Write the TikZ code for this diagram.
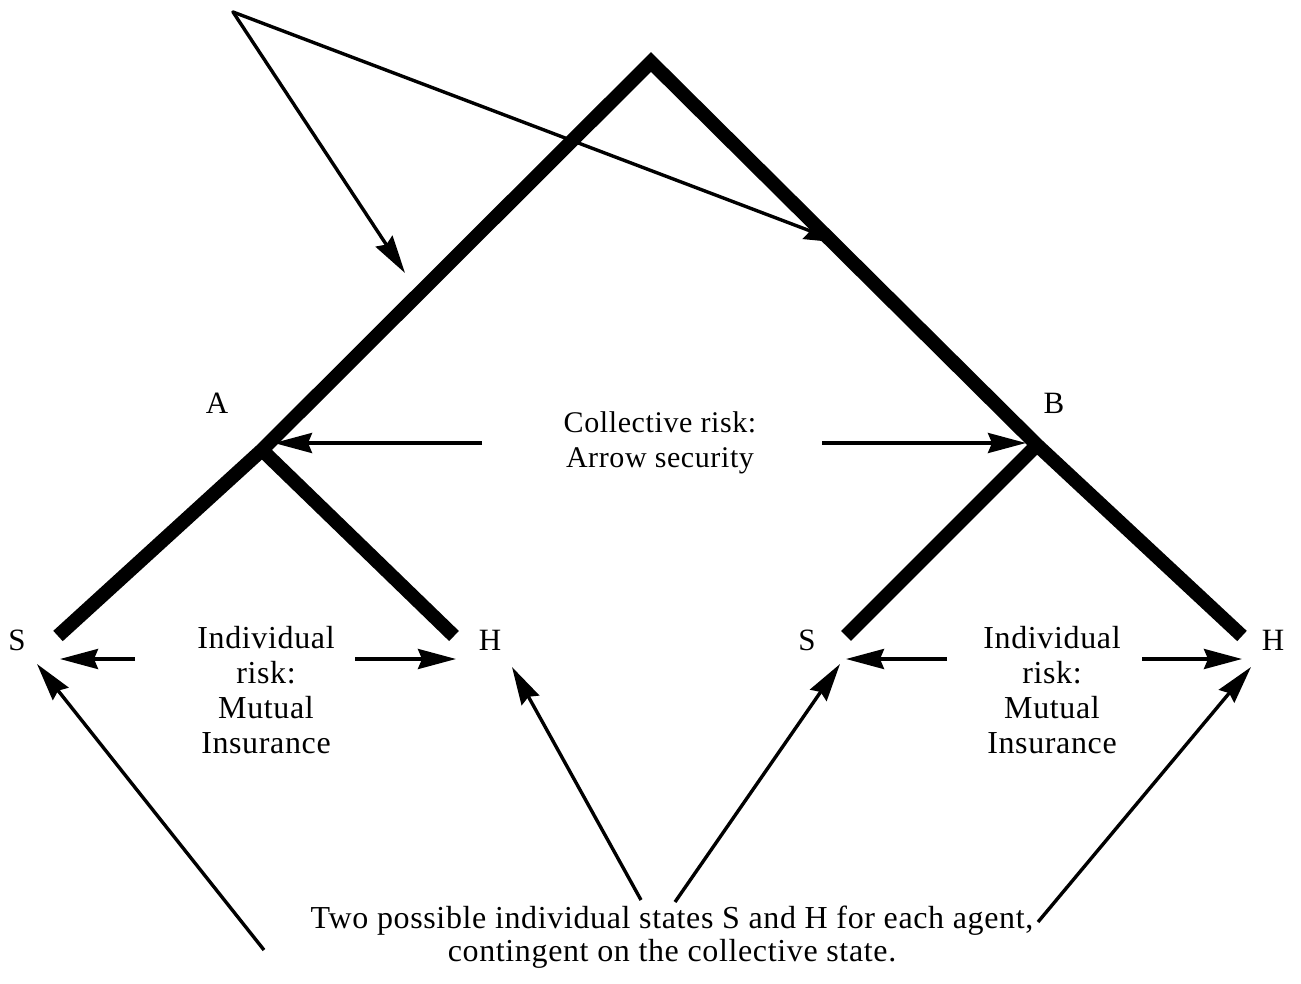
\documentclass[tikz,border=0pt]{standalone}
\usepackage{fontspec}
\setmainfont{Liberation Serif}[LetterSpace=2]
\usetikzlibrary{arrows.meta}
\begin{document}
\begin{tikzpicture}[x=1pt,y=-1pt,
  branch/.style={line width=14pt,line join=miter,line cap=butt},
  pointer/.style={line width=3.4pt,-{Stealth[length=38pt,width=20pt,inset=4pt]}},
  lbl/.style={font=\fontsize{31}{35}\selectfont,inner sep=0pt,align=center},
  big/.style={font=\fontsize{32}{35}\selectfont},
  mid/.style={font=\fontsize{30}{35}\selectfont}]
\useasboundingbox (0,0) rectangle (1301,984);
% tree junctions
\coordinate (top) at (651,62);
\coordinate (ja) at (262,450);
\coordinate (jb) at (1037,445);
\coordinate (sl) at (58,636);
\coordinate (hl) at (454,636);
\coordinate (sr) at (846,636);
\coordinate (hr) at (1242,636);
\draw[branch] (sl) -- (ja) -- (top) -- (jb) -- (hr);
\draw[branch] (ja) -- (hl);
\draw[branch] (jb) -- (sr);
% labels
\node[lbl] (A) at (217,403) {A};
\node[lbl] (B) at (1054,403) {B};
\node[lbl] (S1) at (17,640) {S};
\node[lbl] (H1) at (490,640) {H};
\node[lbl] (S2) at (807,640) {S};
\node[lbl] (H2) at (1273,640) {H};
\node[lbl,mid] (coll) at (660,443) {Collective risk:\\Arrow security};
\node[lbl,big] (ind1) at (266,690) {Individual\\risk:\\Mutual\\Insurance};
\node[lbl,big] (ind2) at (1052,690) {Individual\\risk:\\Mutual\\Insurance};
\node[lbl,font=\fontsize{32}{33}\selectfont] (two) at (672,937) {Two possible individual states S and H for each agent,\\contingent on the collective state.};
% collective arrows
\coordinate (ca1) at (482,443);
\coordinate (ca2) at (822,443);
\coordinate (ae) at (274,443);
\coordinate (be) at (1026,443);
\draw[pointer] (ca1) -- (ae);
\draw[pointer] (ca2) -- (be);
% individual arrows
\coordinate (i1l) at (135,659);
\coordinate (i1r) at (355,659);
\coordinate (i2l) at (947,659);
\coordinate (i2r) at (1142,659);
\coordinate (e1l) at (60,659);
\coordinate (e1r) at (456,659);
\coordinate (e2l) at (846,659);
\coordinate (e2r) at (1242,659);
\draw[pointer] (i1l) -- (e1l);
\draw[pointer] (i1r) -- (e1r);
\draw[pointer] (i2l) -- (e2l);
\draw[pointer] (i2r) -- (e2r);
% top pointer
\coordinate (org) at (233,12);
\coordinate (t1) at (405,273);
\coordinate (t2) at (842,243);
\draw[pointer,line cap=round] (org) -- (t1);
\draw[pointer,line cap=round] (org) -- (t2);
% bottom pointers
\coordinate (b1) at (264,950);
\coordinate (b2) at (641,900);
\coordinate (b3) at (675,902);
\coordinate (b4) at (1038,922);
\coordinate (f1) at (37,664);
\coordinate (f2) at (512,667);
\coordinate (f3) at (840,664);
\coordinate (f4) at (1251,667);
\draw[pointer] (b1) -- (f1);
\draw[pointer] (b2) -- (f2);
\draw[pointer] (b3) -- (f3);
\draw[pointer] (b4) -- (f4);
\end{tikzpicture}
\end{document}
